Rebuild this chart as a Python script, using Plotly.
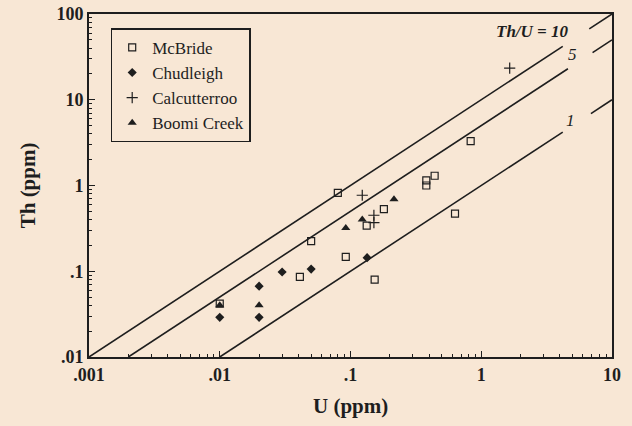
import plotly.graph_objects as go
import numpy as np

# ---- data ----
mcbride_u = [0.08, 0.05, 0.092, 0.041, 0.01, 0.38, 0.38, 0.44, 0.18, 0.133, 0.63, 0.153, 0.83]
mcbride_th = [0.82, 0.225, 0.147, 0.086, 0.042, 1.15, 1.0, 1.3, 0.53, 0.34, 0.47, 0.08, 3.3]

chud_u = [0.03, 0.05, 0.02, 0.01, 0.02, 0.134]
chud_th = [0.098, 0.106, 0.067, 0.029, 0.029, 0.144]

calc_u = [0.123, 0.151, 0.151, 1.65]
calc_th = [0.77, 0.45, 0.37, 23.4]

boomi_u = [0.092, 0.215, 0.123, 0.01, 0.02]
boomi_th = [0.32, 0.69, 0.40, 0.040, 0.040]

ratios = [10, 5, 1]
ratio_labels = ["<b><i>Th/U = 10</i></b>", "<i>5</i>", "<i>1</i>"]
gap_start = [4.2, 4.6, 4.2]     # U where each ratio line breaks for its label
gap_end = [6.7, 7.1, 6.9]       # U where each ratio line resumes
label_u = [4.85, 5.0, 4.85]
label_th = [63, 34, 5.7]

x_ticks = [0.001, 0.01, 0.1, 1, 10]
x_ticktext = [".001", ".01", ".1", "1", "10"]
y_ticks = [0.01, 0.1, 1, 10, 100]
y_ticktext = [".01", ".1", "1", "10", "100"]

U_MIN, U_MAX = 0.001, 10
TH_MIN, TH_MAX = 0.01, 100

ink = "#1e1e1e"
bg = "#f8e7d5"
serif = "Liberation Serif, Times New Roman, serif"

fig = go.Figure()

# ratio lines
for k, g0, g1 in zip(ratios, gap_start, gap_end):
    u0 = TH_MIN / k
    xs = [u0, g0, None, g1, U_MAX]
    ys = [u0 * k, g0 * k, None, g1 * k, U_MAX * k]
    fig.add_trace(go.Scatter(x=xs, y=ys, mode="lines", line=dict(color=ink, width=1.6),
                             showlegend=False, hoverinfo="skip"))

fig.add_trace(go.Scatter(x=mcbride_u, y=mcbride_th, mode="markers", name="McBride",
                         marker=dict(symbol="square-open", size=7, color=ink, line=dict(width=1.2, color=ink))))
fig.add_trace(go.Scatter(x=chud_u, y=chud_th, mode="markers", name="Chudleigh",
                         marker=dict(symbol="diamond", size=7, color=ink)))
fig.add_trace(go.Scatter(x=calc_u, y=calc_th, mode="markers", name="Calcutterroo",
                         marker=dict(symbol="cross-thin", size=8, color=ink, line=dict(width=1.2, color=ink))))
fig.add_trace(go.Scatter(x=boomi_u, y=boomi_th, mode="markers", name="Boomi Creek",
                         marker=dict(symbol="triangle-up", size=8, color=ink)))

for t, lu, lt, k in zip(ratio_labels, label_u, label_th, ratios):
    fig.add_annotation(x=np.log10(lu), y=np.log10(lt), text=t, showarrow=False,
                       xanchor="right" if k == 10 else "center", yanchor="middle",
                       font=dict(family=serif, size=17, color=ink))

# axis titles
fig.add_annotation(xref="paper", yref="paper", x=0.5, y=-0.143, yanchor="middle", showarrow=False,
                   text="<b>U (ppm)</b>", font=dict(family=serif, size=21, color=ink))
fig.add_annotation(xref="paper", yref="paper", x=-0.117, y=0.5, xanchor="center", yanchor="middle",
                   showarrow=False, textangle=-90, text="<b>Th (ppm)</b>",
                   font=dict(family=serif, size=21, color=ink))

minor_x = [m * 10.0 ** e for e in range(-3, 1) for m in range(2, 10)]
minor_y = [m * 10.0 ** e for e in range(-2, 2) for m in range(2, 10)]

axis_common = dict(type="log", showgrid=False, zeroline=False, showline=True, mirror=True,
                   linecolor=ink, linewidth=1.8, ticks="inside", ticklen=6, tickwidth=1.2,
                   tickcolor=ink, tickfont=dict(family=serif, size=18, color=ink),
                   automargin=False)

fig.update_xaxes(**axis_common, range=[np.log10(U_MIN), np.log10(U_MAX)],
                 tickmode="array", tickvals=x_ticks, ticktext=["<b>%s</b>" % t for t in x_ticktext],
                 minor=dict(tickmode="array", tickvals=minor_x, ticks="inside", ticklen=3,
                            tickwidth=1, tickcolor=ink))
fig.update_yaxes(**axis_common, range=[np.log10(TH_MIN), np.log10(TH_MAX)],
                 tickmode="array", tickvals=y_ticks, ticktext=["<b>%s</b>" % t for t in y_ticktext],
                 minor=dict(tickmode="array", tickvals=minor_y, ticks="inside", ticklen=3,
                            tickwidth=1, tickcolor=ink))

fig.update_layout(
    width=632, height=426,
    margin=dict(l=89, r=20, t=14, b=69, autoexpand=False),
    paper_bgcolor=bg, plot_bgcolor=bg,
    font=dict(family=serif, color=ink),
    legend=dict(x=0.0415, y=0.958, xanchor="left", yanchor="top",
                bgcolor="rgba(0,0,0,0)", bordercolor=ink, borderwidth=1.5,
                font=dict(family=serif, size=17, color=ink), tracegroupgap=0,
                entrywidth=110),
)

fig.write_html("out.html", config={"displayModeBar": False},
               post_script="document.body.style.margin='0';document.body.style.background='%s';" % bg)
